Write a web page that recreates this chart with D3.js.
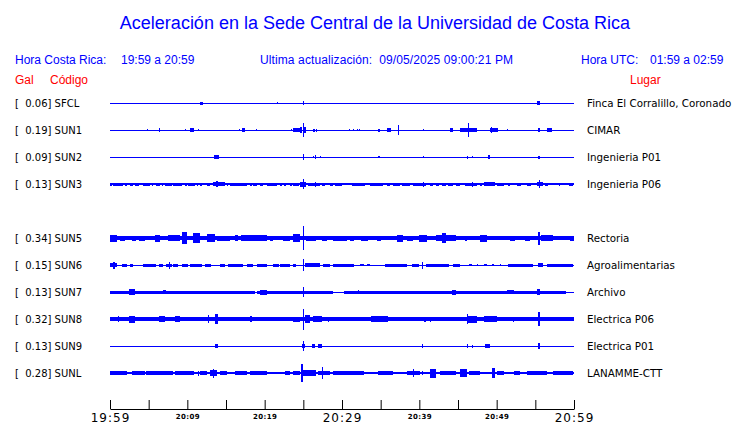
<!DOCTYPE html>
<html><head><meta charset="utf-8">
<script src="https://cdn.jsdelivr.net/npm/d3@7"></script>
<style>
html,body{margin:0;padding:0;background:#fff;}
svg{display:block;}
</style></head>
<body>
<script>
// ---- data ----
const codes  = ["SFCL","SUN1","SUN2","SUN3","SUN5","SUN6","SUN7","SUN8","SUN9","SUNL"];
const gals   = [0.06,0.19,0.09,0.13,0.34,0.15,0.13,0.32,0.13,0.28];
const places = ["Finca El Corralillo, Coronado","CIMAR","Ingenieria P01","Ingenieria P06","Rectoria","Agroalimentarias","Archivo","Electrica P06","Electrica P01","LANAMME-CTT"];
const channelSlot = [0,1,2,3,5,6,7,8,9,10];   // SUN4 channel absent
const baseNoise = [0.5,0.5,0.5,0.6,2,0.5,0.5,2,0.5,1.2];
const startTime = "2025-05-09T19:59:00", endTime = "2025-05-09T20:59:00";
const tickMinutes = [0,5,10,15,20,25,30,35,40,45,50,55,60];
// bursts: [startMinute, endMinute, amplitude]
const burstsSFCL = [[11.6,12.0,1.5],[21.6,21.7,1],[24.9,25.1,2],[55.2,55.6,2]];
const burstsSUN1 = [[4.8,4.9,1.2],[6.3,6.4,1.8],[9.7,9.8,1],[10.3,10.9,1.8],[11.4,11.5,1],[16.7,16.8,1],[17.1,17.5,1.8],[18.9,19.0,1.2],[23.4,23.5,1],[23.6,24.6,2],[24.6,24.8,3],[24.95,25.05,7],[25.1,25.4,3],[26.3,26.4,1.5],[26.6,26.7,1.5],[30.9,31.0,1.2],[31.4,31.5,1.2],[31.9,32.0,1.2],[32.2,32.3,1.2],[34.7,34.8,1.5],[35.8,36.4,1.8],[37.25,37.35,5],[40.5,40.6,1],[44.0,44.4,1.8],[45.3,47.4,2],[46.25,46.35,7],[49.1,50.2,2],[49.3,49.4,3],[51.3,51.4,1],[55.4,55.5,1.8],[56.5,57.1,1.8]];
const burstsSUN2 = [[13.5,14.1,1.8],[24.95,25.05,3],[26.2,26.3,1.2],[26.5,26.7,1.8],[27.1,27.2,1.2],[34.7,34.8,1.2],[40.5,40.6,1.2],[46.1,46.3,1.5],[46.8,46.9,1.2],[48.9,49.1,1.8],[55.4,55.5,1.5]];
const burstsSUN3 = [[0,0.2,1.5],[0.4,1.1,1.5],[1.2,1.7,1.5],[1.9,2.2,1.5],[2.6,3.0,1.5],[3.2,3.7,1.5],[4.3,5.2,1.5],[5.4,5.6,1.5],[6.0,6.5,1.5],[6.7,6.9,1.5],[7.1,8.0,1.5],[8.2,9.3,1.5],[9.7,9.9,1.5],[10.1,11.0,1.5],[11.2,11.4,1.5],[11.6,11.9,1.5],[12.5,12.9,1.5],[13.3,14.9,2],[13.75,13.85,2.8],[15.1,15.3,1.5],[15.5,17.7,1.5],[18.1,18.3,1.5],[18.5,19.0,1.5],[19.4,19.8,1.5],[20.3,21.6,1.5],[22.0,22.2,1.5],[22.5,22.8,1.5],[23.3,23.5,1.5],[23.7,24.4,1.5],[24.6,25.4,2.5],[24.93,25.03,5],[25.6,26.3,1.5],[26.3,27.2,1.5],[26.45,26.55,2.5],[27.4,27.8,1.5],[28.4,28.9,1.5],[29.1,29.7,1.5],[29.7,30.0,1.5],[31.3,33.0,1.5],[33.6,35.3,1.5],[35.8,36.2,1.5],[36.6,37.5,1.5],[37.7,38.8,1.5],[39.2,40.9,1.5],[40.45,40.55,2.5],[41.4,41.8,1.5],[42.2,42.5,1.5],[42.9,43.5,1.5],[43.7,44.4,1.5],[44.8,45.3,1.5],[45.9,47.4,1.5],[46.75,46.85,2.5],[47.8,48.1,1.5],[48.3,49.8,2.2],[50.0,50.9,1.5],[51.5,51.7,1.5],[52.6,53.2,1.5],[53.9,54.5,1.5],[55.2,56.0,2],[55.45,55.55,4],[56.3,56.7,1.5],[58.0,58.1,1.5],[59.3,59.9,1.5]];
const burstsSUN5 = [[0,0.9,3.5],[1.3,1.9,2.5],[2.8,3.4,2.5],[3.8,4.5,2.5],[5.8,6.5,3.5],[7.5,9.1,2.8],[9.3,10.0,6],[10.7,11.6,5],[12.5,13.6,4],[13.8,15.5,2.5],[16.2,16.6,3],[17.0,20.3,3],[20.7,21.1,2.5],[22.4,23.3,2.5],[23.7,24.6,4],[24.95,25.05,12],[25.4,26.7,2.5],[27.4,28.0,2.5],[28.9,30.6,2.5],[31.0,31.5,2.5],[32.5,33.4,2.5],[34.5,35.1,2.5],[37.1,37.9,3.5],[38.4,39.2,2.5],[39.9,41.0,3.5],[42.2,44.8,3],[42.9,43.5,5],[45.9,46.1,2.5],[47.8,48.7,3.5],[51.7,52.4,2.5],[53.7,54.3,2.5],[55.4,55.5,6.5],[55.7,57.3,3],[59.5,60,2.5]];
const burstsSUN6 = [[0,0.9,2],[0.45,0.55,3.5],[1.5,2.2,1.5],[2.6,3.0,1.5],[4.3,6.0,1.5],[6.3,6.9,1.5],[7.3,8.0,1.5],[7.65,7.75,3.5],[8.2,8.8,1.5],[9.3,10.1,1.5],[10.3,11.9,1.5],[12.3,13.1,1.5],[14.2,14.9,1.5],[15.3,17.2,1.5],[17.7,18.5,1.5],[19.0,20.3,1.5],[21.1,21.8,1.5],[22.0,23.3,1.5],[23.7,24.1,1.5],[24.95,25.05,6],[25.2,27.2,2.3],[27.6,28.4,1.5],[28.9,29.7,1.5],[29.7,31.5,1.5],[32.3,32.8,1.3],[33.2,33.6,1.3],[35.6,38.4,1.5],[39.0,39.9,1.5],[40.3,40.5,3.5],[40.9,43.9,1.5],[44.4,45.3,1.5],[46.4,46.8,1.3],[47.4,47.6,1.3],[48.3,48.7,1.3],[49.4,49.6,1.3],[50.4,50.6,1.3],[51.5,54.7,1.5],[55.4,56.0,2.3],[56.5,59.9,1.5]];
const burstsSUN7 = [[0,18.7,1.5],[19.0,28.9,1.5],[30.2,59.0,1.5],[2.4,3.2,2.8],[6.9,7.3,2.2],[19.4,20.3,2.5],[24.95,25.05,5],[32.1,32.2,2.2],[44.2,44.8,2.5],[51.3,52.2,2.3],[55.2,55.6,3]];
const burstsSUN8 = [[1.05,1.15,2.8],[2.4,3.2,3.5],[6.4,7.1,3],[8.4,9.1,3],[12.65,12.75,4],[13.6,14.0,5],[18.1,18.3,3],[23.7,24.6,2.5],[24.95,25.05,10.5],[25.2,25.9,4],[26.3,27.4,3],[28.15,28.25,2.5],[33.8,35.9,3],[40.65,40.75,2.5],[41.35,41.45,2.5],[46.1,47.4,3.5],[46.15,46.25,5],[48.3,50.0,3],[52.15,52.25,2.5],[55.4,55.6,7]];
const burstsSUN9 = [[13.6,14.0,2],[24.8,25.2,2],[24.95,25.05,5],[26.1,26.5,2],[26.9,27.4,2],[40.3,40.5,2],[46.1,46.3,2],[46.8,47.0,1.5],[48.5,49.1,2],[55.4,55.5,3]];
const burstsSUNL = [[0,2.2,2.2],[2.8,4.5,2.2],[4.7,8.2,2.2],[8.4,10.8,2.2],[11.35,11.45,2.5],[11.6,12.5,2],[12.9,13.8,3],[13.35,13.45,4.5],[14.2,15.1,2.2],[16.2,17.7,2.2],[18.1,20.3,2.2],[22.6,23.3,2.2],[23.7,24.6,2.2],[24.75,24.85,9],[25.0,26.7,3],[26.9,28.4,2.3],[27.35,27.45,6],[28.9,32.8,2.2],[34.7,36.6,2.2],[38.4,40.1,2.2],[39.15,39.25,4],[40.3,40.5,2.2],[41.4,42.2,4.5],[42.7,44.8,2.2],[45.3,46.1,4],[46.4,47.8,2.2],[49.4,49.8,5],[50.0,50.9,2.2],[52.2,53.0,2.2],[53.9,56.5,2.2],[57.3,59.9,2.2]];
const bursts = [burstsSFCL,burstsSUN1,burstsSUN2,burstsSUN3,burstsSUN5,burstsSUN6,burstsSUN7,burstsSUN8,burstsSUN9,burstsSUNL];

// ---- drawing ----
const W = 740, H = 423;
const blue = "#0000ff", red = "#ff0000";
const svg = d3.select("body").append("svg").attr("width", W).attr("height", H);

const t0 = new Date(startTime), t1 = new Date(endTime);
const at = m => new Date(t0.getTime() + m * 60000);
const x = d3.scaleTime().domain([t0, t1]).range([110, 574]);
const rowY = d3.scaleLinear().domain([0, 10]).range([103, 373]);
const amp = d3.scaleLinear().domain([-12, 12]).range([12, -12]);

svg.append("text").attr("x", 375).attr("y", 29).attr("text-anchor", "middle")
  .attr("font-family", "Liberation Sans, Arial, sans-serif").attr("font-size", 18).attr("fill", blue)
  .text("Aceleración en la Sede Central de la Universidad de Costa Rica");

const hdr = (tx, xx, yy, col, anchor) => svg.append("text").attr("x", xx).attr("y", yy)
  .attr("font-family", "Liberation Sans, Arial, sans-serif").attr("font-size", 12)
  .attr("fill", col).attr("text-anchor", anchor || "start").attr("xml:space", "preserve").text(tx);
hdr("Hora Costa Rica:", 15, 64, blue);
hdr("19:59 a 20:59", 121, 64, blue);
hdr("Ultima actualización:  09/05/2025 09:00:21 PM", 260, 64, blue).attr("textLength", 253);
hdr("Hora UTC:", 581, 64, blue);
hdr("01:59 a 02:59", 650, 64, blue);
hdr("Gal", 15, 84, red);
hdr("Código", 50, 84, red);
hdr("Lugar", 630, 84, red);

const rows = svg.append("g").selectAll("g").data(codes).join("g")
  .attr("transform", (d, i) => `translate(0,${rowY(channelSlot[i])})`);

rows.append("text").attr("x", 15).attr("y", 4)
  .attr("font-family", "DejaVu Sans, sans-serif").attr("font-size", 10).attr("fill", "#000")
  .attr("xml:space", "preserve")
  .text((d, i) => `[  ${gals[i].toFixed(2)}] ${d}`);
rows.append("text").attr("x", 587).attr("y", 4)
  .attr("font-family", "DejaVu Sans, sans-serif").attr("font-size", 10.3).attr("fill", "#000")
  .text((d, i) => places[i]);

rows.append("rect")
  .attr("x", x(t0)).attr("width", x(t1) - x(t0))
  .attr("y", (d, i) => amp(baseNoise[i])).attr("height", (d, i) => Math.max(1, amp(-baseNoise[i]) - amp(baseNoise[i])))
  .attr("fill", blue).attr("shape-rendering", "crispEdges");

rows.each(function (d, i) {
  d3.select(this).selectAll("rect.b").data(bursts[i]).join("rect").attr("class", "b")
    .attr("x", b => x(at(b[0])))
    .attr("width", b => Math.max(1.2, x(at(b[1])) - x(at(b[0]))))
    .attr("y", b => amp(b[2]))
    .attr("height", b => amp(-b[2]) - amp(b[2]))
    .attr("fill", blue).attr("shape-rendering", "crispEdges");
});

const fmt = d3.timeFormat("%H:%M");
const ax = svg.append("g").attr("transform", "translate(0,409)")
  .call(d3.axisBottom(x).tickValues(tickMinutes.map(at)).tickSize(-9).tickSizeOuter(0)
    .tickFormat((d, i) => tickMinutes[i] % 10 === 0 ? fmt(d) : ""));
ax.select(".domain").attr("stroke", "#000");
ax.selectAll(".tick line").attr("stroke", "#000");
ax.selectAll(".tick text").attr("fill", "#000").attr("dy", null)
  .attr("font-family", "DejaVu Sans, sans-serif")
  .each(function (d, i) {
    const big = tickMinutes[i] % 30 === 0;
    d3.select(this).attr("y", big ? 12.5 : 10)
      .attr("font-size", big ? 12 : 7)
      .attr("font-weight", big ? "normal" : "bold")
      .attr("letter-spacing", big ? 1 : 0.4);
  });
</script>
</body></html>
